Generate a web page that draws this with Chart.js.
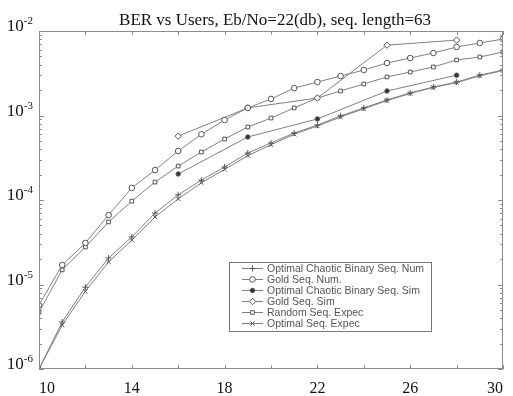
<!DOCTYPE html>
<html>
<head>
<meta charset="utf-8">
<script src="https://cdn.jsdelivr.net/npm/chart.js@4.4.1/dist/chart.umd.min.js"></script>
<style>
  html, body { margin: 0; padding: 0; background: #fff; }
  #wrap { width: 513px; height: 396px; }
</style>
</head>
<body>
<div id="wrap"><canvas id="ber" width="513" height="396"></canvas></div>
<script>
// number of users (x) for the numerical / expected curves
const users = [10, 11, 12, 13, 14, 15, 16, 17, 18, 19, 20, 21, 22, 23, 24, 25, 26, 27, 28, 29, 30];
// simulation points are only every 3 users
const simUsers = [16, 19, 22, 25, 28];

const optChaoticNum = [1.0e-6, 3.6e-6, 9.3e-6, 2.06e-5, 3.65e-5, 7.0e-5, 1.15e-4, 1.72e-4, 2.46e-4, 3.6e-4, 4.73e-4,
  6.2e-4, 7.7e-4, 9.9e-4, 1.23e-3, 1.53e-3, 1.85e-3, 2.17e-3, 2.49e-3, 3.0e-3, 3.45e-3];
const goldNum = [5.7e-6, 1.7e-5, 3.1e-5, 6.64e-5, 1.39e-4, 2.26e-4, 3.8e-4, 6.0e-4, 8.85e-4, 1.23e-3, 1.57e-3,
  2.11e-3, 2.49e-3, 2.93e-3, 3.45e-3, 4.18e-3, 4.79e-3, 5.49e-3, 6.47e-3, 7.21e-3, 8.04e-3];
const optChaoticSim = [2.03e-4, 5.57e-4, 9.1e-4, 1.95e-3, 3.0e-3];
const goldSim = [5.7e-4, 1.23e-3, 1.61e-3, 6.8e-3, 7.8e-3];
const randomExpec = [4.7e-6, 1.49e-5, 2.78e-5, 5.5e-5, 9.7e-5, 1.63e-4, 2.52e-4, 3.7e-4, 5.27e-4, 7.31e-4, 9.33e-4,
  1.23e-3, 1.61e-3, 1.95e-3, 2.36e-3, 2.86e-3, 3.27e-3, 3.75e-3, 4.54e-3, 4.92e-3, 5.64e-3];
const optSeqExpec = [1.0e-6, 3.3e-6, 8.3e-6, 1.85e-5, 3.35e-5, 6.3e-5, 1.03e-4, 1.6e-4, 2.3e-4, 3.35e-4, 4.5e-4,
  6.0e-4, 7.5e-4, 9.6e-4, 1.2e-3, 1.5e-3, 1.82e-3, 2.15e-3, 2.45e-3, 2.95e-3, 3.4e-3];

const seriesLabels = ['Optimal Chaotic Binary Seq. Num', 'Gold Seq. Num.', 'Optimal Chaotic Binary Seq. Sim',
  'Gold Seq. Sim', 'Random Seq. Expec', 'Optimal Seq. Expec'];
const xTicks = [10, 12, 14, 16, 18, 20, 22, 24, 26, 28, 30];
const yDecades = [-6, -5, -4, -3, -2];
const titleText = 'BER vs Users, Eb/No=22(db), seq. length=63';

const pts = (xs, ys) => xs.map((x, i) => ({ x: x, y: ys[i] }));

const lineCol = '#808080';
const markCol = '#555';

function series(label, xs, ys, style, radius, fill) {
  return {
    label: label,
    data: pts(xs, ys),
    borderColor: lineCol,
    borderWidth: 1,
    pointStyle: style,
    pointRadius: radius,
    pointBorderColor: markCol,
    pointBackgroundColor: fill,
    pointBorderWidth: 1,
    tension: 0
  };
}

const datasets = [
  series(seriesLabels[0], users, optChaoticNum, 'cross', 3, markCol),
  series(seriesLabels[1], users, goldNum, 'circle', 2.8, '#fff'),
  series(seriesLabels[2], simUsers, optChaoticSim, 'circle', 2.2, '#333'),
  series(seriesLabels[3], simUsers, goldSim, 'rectRot', 3.2, '#fff'),
  series(seriesLabels[4], users, randomExpec, 'rect', 2.6, '#fff'),
  series(seriesLabels[5], users, optSeqExpec, 'crossRot', 3, markCol)
];

// box, inward ticks, y labels with superscripts, title and the legend inside the plot
const decor = {
  id: 'decor',
  afterDraw(chart) {
    const ctx = chart.ctx, a = chart.chartArea;
    const xs = chart.scales.x, ys = chart.scales.y;
    ctx.save();
    ctx.strokeStyle = '#8c8c8c';
    ctx.lineWidth = 1;
    ctx.strokeRect(a.left + 0.5, a.top + 0.5, a.right - a.left - 1, a.bottom - a.top - 1);

    ctx.beginPath();
    xTicks.forEach(v => {
      const px = Math.round(xs.getPixelForValue(v)) + 0.5;
      ctx.moveTo(px, a.bottom); ctx.lineTo(px, a.bottom - 4);
      ctx.moveTo(px, a.top); ctx.lineTo(px, a.top + 4);
    });
    yDecades.forEach(e => {
      const py = Math.round(ys.getPixelForValue(Math.pow(10, e))) + 0.5;
      ctx.moveTo(a.left, py); ctx.lineTo(a.left + 5, py);
      ctx.moveTo(a.right, py); ctx.lineTo(a.right - 5, py);
      if (e < -2) {
        for (let m = 2; m <= 9; m++) {
          const pm = Math.round(ys.getPixelForValue(m * Math.pow(10, e))) + 0.5;
          ctx.moveTo(a.left, pm); ctx.lineTo(a.left + 3, pm);
          ctx.moveTo(a.right, pm); ctx.lineTo(a.right - 3, pm);
        }
      }
    });
    ctx.stroke();

    // y labels 10^e
    ctx.fillStyle = '#111';
    ctx.textBaseline = 'alphabetic';
    yDecades.forEach(e => {
      const py = ys.getPixelForValue(Math.pow(10, e));
      const sup = String(e);
      ctx.font = '11px "Liberation Serif"';
      const sw = ctx.measureText(sup).width;
      ctx.textAlign = 'right';
      ctx.fillText(sup, 33, py - 7);
      ctx.font = '17px "Liberation Serif"';
      ctx.fillText('10', 33 - sw, py);
    });

    // title
    ctx.font = '17px "Liberation Serif"';
    ctx.textAlign = 'center';
    ctx.fillText(titleText, 275, 25);

    // legend
    const lx = 229.5, ly = 262.5, lw = 202, lh = 69;
    ctx.fillStyle = '#fff';
    ctx.fillRect(lx, ly, lw, lh);
    ctx.strokeStyle = '#777';
    ctx.strokeRect(lx, ly, lw, lh);
    ctx.font = '10.5px "Liberation Sans"';
    ctx.textAlign = 'left';
    ctx.textBaseline = 'middle';
    chart.data.datasets.forEach((ds, i) => {
      const y = 268.5 + i * 11;
      ctx.strokeStyle = lineCol;
      ctx.beginPath();
      ctx.moveTo(242, y); ctx.lineTo(263, y);
      ctx.stroke();
      ctx.strokeStyle = markCol;
      ctx.fillStyle = ds.pointBackgroundColor;
      Chart.helpers.drawPoint(ctx, { pointStyle: ds.pointStyle, radius: ds.pointRadius, borderWidth: 1, rotation: 0 }, 252.5, y);
      ctx.fillStyle = '#555';
      ctx.fillText(ds.label, 267, y + 0.5);
    });
    ctx.restore();
  }
};

new Chart(document.getElementById('ber'), {
  type: 'line',
  data: { datasets: datasets },
  options: {
    responsive: false,
    animation: false,
    layout: { padding: { top: 31, right: 0, left: 0, bottom: 0 } },
    plugins: { legend: { display: false }, title: { display: false }, tooltip: { enabled: false } },
    scales: {
      x: {
        type: 'linear', min: 10, max: 30,
        grid: { display: false, drawTicks: false },
        border: { display: false },
        ticks: { stepSize: 4, align: 'inner', padding: 10, color: '#111', maxRotation: 0, autoSkip: false,
          font: { family: 'Liberation Serif', size: 16 } },
        afterFit: s => { s.height = 27; }
      },
      y: {
        type: 'logarithmic', min: 1e-6, max: 1e-2,
        grid: { display: false, drawTicks: false },
        border: { display: false },
        ticks: { display: false },
        afterFit: s => { s.width = 39; }
      }
    }
  },
  plugins: [decor]
});
</script>
</body>
</html>
